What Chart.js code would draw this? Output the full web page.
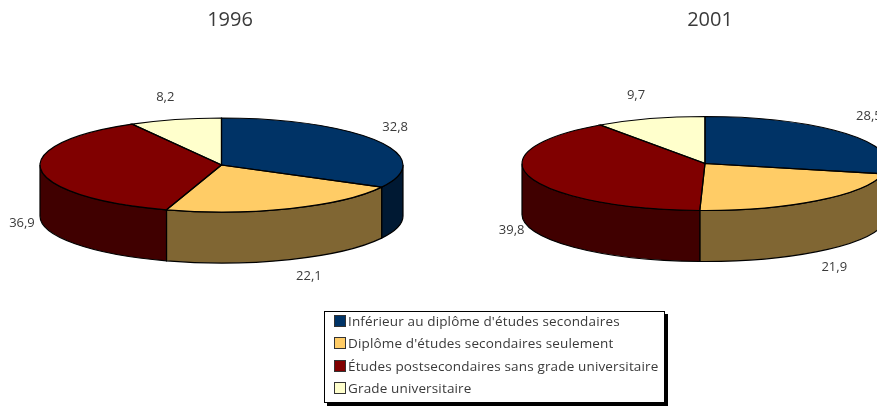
<!DOCTYPE html>
<html>
<head>
<meta charset="utf-8">
<script src="https://cdn.jsdelivr.net/npm/chart.js@4"></script>
<style>
  html, body { margin: 0; padding: 0; background: #fff; width: 877px; height: 407px; overflow: hidden; }
  canvas { position: absolute; top: 0; }
  #legend {
    position: absolute; left: 324px; top: 311px; width: 341px; height: 92px; box-sizing: border-box;
    background: #fff; border: 1px solid #000; box-shadow: 3px 3px 0 #000;
    font: 13.5px "Open Sans", sans-serif; letter-spacing: 0.15px; color: #3a3a3a;
    padding: 0 0 0 9px;
  }
  #legend div { height: 22.3px; line-height: 22px; white-space: nowrap; position: relative; top: -2px; }
  #legend i { display: inline-block; width: 10px; height: 10px; border: 1px solid #333; margin-right: 2px; vertical-align: -1px; }
</style>
</head>
<body>
<canvas id="pie1996" width="460" height="407" style="left:0;width:460px;height:407px"></canvas>
<canvas id="pie2001" width="500" height="407" style="left:460px;width:500px;height:407px"></canvas>
<div id="legend"></div>
<script>
const categories = ["Inférieur au diplôme d'études secondaires", "Diplôme d'études secondaires seulement", "Études postsecondaires sans grade universitaire", "Grade universitaire"];
const values1996 = [32.8, 22.1, 36.9, 8.2];
const values2001 = [28.5, 21.9, 39.8, 9.7];
const topColors = ['#003366', '#FFCC66', '#800000', '#FFFFCC'];
const wallColors = ['#001933', '#806633', '#400000', '#808066'];
const labelOffsets1996 = [[18, -14], [19, 17], [-19, 2], [-10, -22]];
const labelOffsets2001 = [[21, -18], [17, 16], [-18, 2], [-14, -23]];

const FONT = '"Open Sans", sans-serif';
const RY = 47, DEPTH = 51;

// squashes the pie chart.js draws and adds the side wall, outlines, title and value labels
const tiltPlugin = {
  id: 'tilt',
  beforeDatasetsDraw(chart) {
    const ctx = chart.ctx;
    const arcs = chart.getDatasetMeta(0).data;
    const cx = arcs[0].x, cy = arcs[0].y, rx = arcs[0].outerRadius;

    ctx.save();
    ctx.strokeStyle = '#000';
    ctx.lineWidth = 1.2;
    arcs.forEach((arc, i) => {
      const s = Math.max(arc.startAngle, 0), e = Math.min(arc.endAngle, Math.PI);
      if (e <= s) return;
      ctx.beginPath();
      ctx.ellipse(cx, cy, rx, RY, 0, s, e);
      ctx.ellipse(cx, cy + DEPTH, rx, RY, 0, e, s, true);
      ctx.closePath();
      ctx.fillStyle = wallColors[i];
      ctx.fill();
      ctx.stroke();
    });
    ctx.restore();

    ctx.save();
    ctx.translate(cx, cy);
    ctx.scale(1, RY / rx);
    ctx.translate(-cx, -cy);
  },
  afterDatasetsDraw(chart, args, opts) {
    const ctx = chart.ctx;
    ctx.restore();

    const arcs = chart.getDatasetMeta(0).data;
    const cx = arcs[0].x, cy = arcs[0].y, rx = arcs[0].outerRadius;
    ctx.save();
    ctx.strokeStyle = '#000';
    ctx.lineWidth = 1.2;
    arcs.forEach((arc) => {
      ctx.beginPath();
      ctx.moveTo(cx, cy);
      ctx.ellipse(cx, cy, rx, RY, 0, arc.startAngle, arc.endAngle);
      ctx.closePath();
      ctx.stroke();
    });

    ctx.fillStyle = '#3a3a3a';
    ctx.textAlign = 'center';
    ctx.textBaseline = 'middle';
    ctx.font = '13px ' + FONT;
    arcs.forEach((arc, i) => {
      const mid = (arc.startAngle + arc.endAngle) / 2;
      const x = cx + rx * Math.cos(mid) + opts.offsets[i][0];
      const y = cy + RY * Math.sin(mid) + (Math.sin(mid) > 0 ? DEPTH : 0) + opts.offsets[i][1];
      ctx.fillText(chart.data.datasets[0].data[i].toFixed(1).replace('.', ','), x, y);
    });

    // the year sits a little to the right of the pie centre, so chart.js' own title can't do it
    ctx.font = '20px ' + FONT;
    ctx.fillText(opts.title, opts.titleX, 20);
    ctx.restore();
  }
};

function makePie(id, title, titleX, values, offsets, radius, padRight, padBottom) {
  new Chart(document.getElementById(id), {
    type: 'pie',
    data: {
      labels: categories,
      datasets: [{ data: values, backgroundColor: topColors, borderWidth: 0, clip: false }]
    },
    options: {
      responsive: false,
      animation: false,
      radius: radius,
      layout: { padding: { right: padRight, bottom: padBottom } },
      plugins: {
        legend: { display: false },
        tooltip: { enabled: false },
        title: { display: false },
        tilt: { offsets: offsets, title: title, titleX: titleX }
      }
    },
    plugins: [tiltPlugin]
  });
}

makePie('pie1996', '1996', 230, values1996, labelOffsets1996, 181.5, 17, 77);
makePie('pie2001', '2001', 250, values2001, labelOffsets2001, 183, 10, 80);

const legend = document.getElementById('legend');
categories.forEach((name, i) => {
  const row = document.createElement('div');
  const box = document.createElement('i');
  box.style.background = topColors[i];
  row.appendChild(box);
  row.appendChild(document.createTextNode(name));
  legend.appendChild(row);
});
</script>
</body>
</html>
